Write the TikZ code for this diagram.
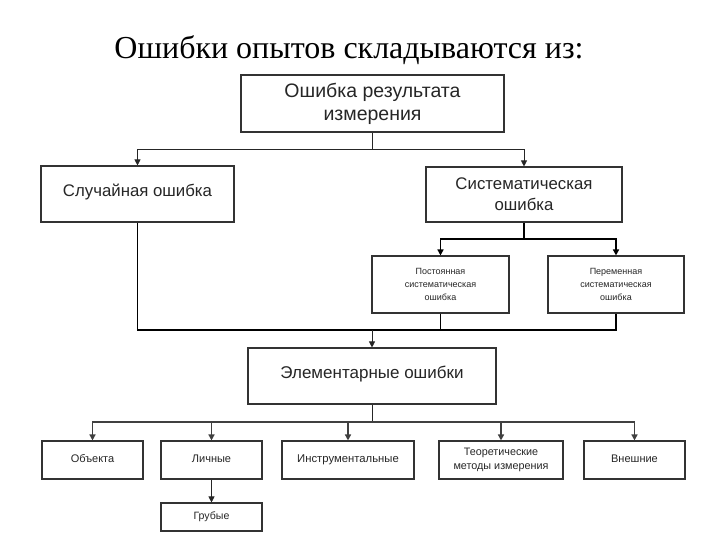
\documentclass[tikz,border=0pt]{standalone}
\usepackage{fontspec}
\setmainfont{Liberation Sans}
\newfontfamily\titlefont{Liberation Serif}
\usetikzlibrary{arrows.meta}

\begin{document}
\begin{tikzpicture}[x=1pt,y=-1pt,
  box/.style={draw=black!80,line width=1.1pt,fill=white,inner sep=0pt,align=center,text=black!85},
  oneline/.style={text height=0.72em,text depth=0.21em},
  conn/.style={draw=black!85,line width=0.8pt},
  bold/.style={draw=black,line width=1.6pt},
  tip/.style={-{Triangle[length=6pt,width=6pt]}}]
\useasboundingbox (0,0) rectangle (720,540);

\node (title) at (349,50) {\titlefont\fontsize{32}{36}\selectfont Ошибки опытов складываются из:};

\node[box,minimum width=263pt,minimum height=57pt,font=\fontsize{19.5}{23}\selectfont] (res) at (372.5,103.5)
  {Ошибка результата\\ измерения};
\node[box,oneline,minimum width=193pt,minimum height=56pt,font=\fontsize{16.8}{20}\selectfont] (rand) at (137.5,194)
  {Случайная ошибка};
\node[box,minimum width=196pt,minimum height=55pt,font=\fontsize{16.8}{21}\selectfont] (syst) at (524,194.5)
  {Систематическая\\ ошибка};
\node[box,minimum width=137pt,minimum height=57pt,font=\fontsize{9}{13}\selectfont] (const) at (440.5,284.5)
  {Постоянная\\ систематическая\\ ошибка};
\node[box,minimum width=136pt,minimum height=57pt,font=\fontsize{9}{13}\selectfont] (var) at (616,284.5)
  {Переменная\\ систематическая\\ ошибка};
\node[box,oneline,minimum width=248pt,minimum height=56pt,font=\fontsize{17}{20}\selectfont] (elem) at (372,376)
  {Элементарные ошибки};

\node[box,oneline,minimum width=101pt,minimum height=38pt,font=\fontsize{11}{14}\selectfont] (obj) at (92.5,460)
  {Объекта};
\node[box,oneline,minimum width=101pt,minimum height=38pt,font=\fontsize{11}{14}\selectfont] (pers) at (211.5,460)
  {Личные};
\node[box,oneline,minimum width=132pt,minimum height=38pt,font=\fontsize{11.3}{14}\selectfont] (instr) at (348,460)
  {Инструментальные};
\node[box,minimum width=124pt,minimum height=38pt,font=\fontsize{10.8}{14}\selectfont] (theor) at (501,460)
  {Теоретические\\ методы измерения};
\node[box,oneline,minimum width=101pt,minimum height=38pt,font=\fontsize{11}{14}\selectfont] (ext) at (634.5,460)
  {Внешние};
\node[box,oneline,minimum width=101pt,minimum height=28pt,font=\fontsize{10.6}{14}\selectfont] (gross) at (211.5,517)
  {Грубые};

\coordinate (j1) at (372.5,149);
\coordinate (j2) at (524,239);
\coordinate (j3) at (372,330);
\coordinate (j4) at (372,422);

\draw[conn] (res) -- (j1);
\draw[conn,tip] (j1) -| (rand);
\draw[conn,tip] (j1) -| (syst);

\draw[bold] (syst) -- (j2);
\draw[bold,tip] (j2) -| (const);
\draw[bold,tip] (j2) -| (var);

\draw[bold] (rand) |- (j3) -| (var);
\draw[bold] (const) -- (const |- j3);
\draw[conn,tip] (j3) -- (elem);

\draw[conn] (elem) -- (j4);
\draw[bold,draw=black!75,tip] (j4) -| (obj);
\draw[bold,draw=black!75,tip] (j4) -| (pers);
\draw[bold,draw=black!75,tip] (j4) -| (instr);
\draw[bold,draw=black!75,tip] (j4) -| (theor);
\draw[bold,draw=black!75,tip] (j4) -| (ext);
\draw[conn,tip] (pers) -- (gross);
\end{tikzpicture}
\end{document}
